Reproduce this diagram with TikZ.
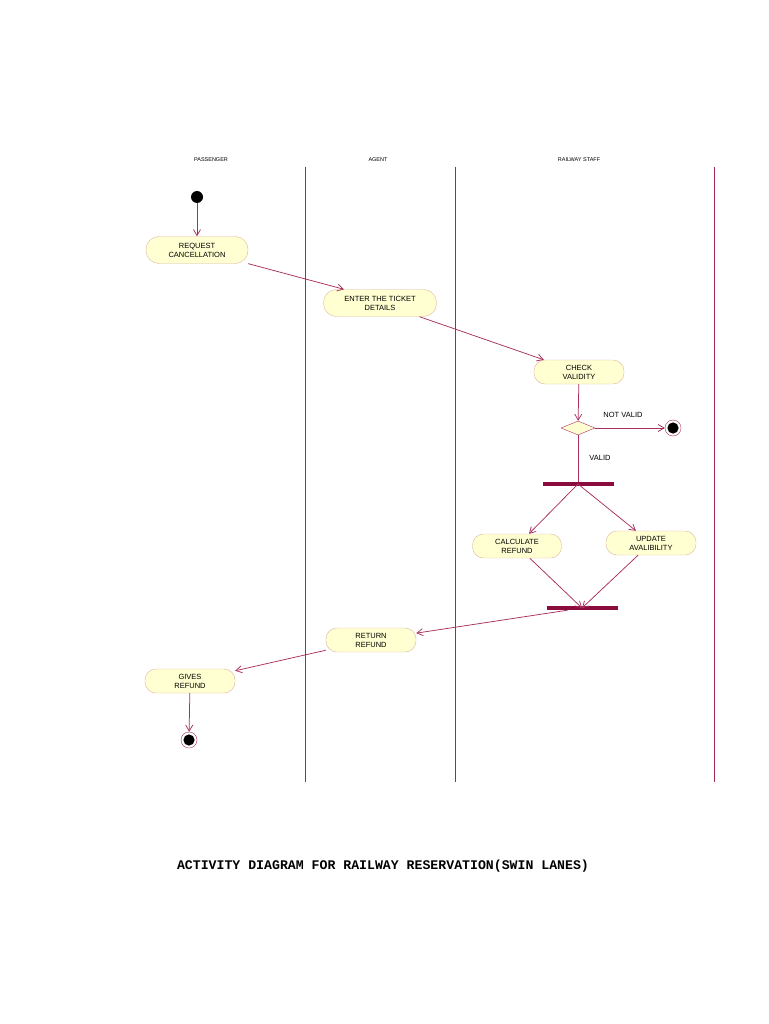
\documentclass[tikz,border=0pt]{standalone}
\usepackage{fontspec}
\setmainfont{Liberation Sans}
\newfontfamily\titlefont{Liberation Mono}
\usetikzlibrary{arrows.meta,shapes.geometric}
\definecolor{lanecol}{HTML}{A0285A}
\definecolor{arrcol}{HTML}{A8305E}
\definecolor{barcol}{HTML}{8A0C3C}
\definecolor{actfill}{HTML}{FFFFD2}
\definecolor{actdraw}{HTML}{DDB59E}
\begin{document}
\begin{tikzpicture}[x=1pt,y=-1pt,
  lane/.style={draw=lanecol,line width=1pt},
  lanelabel/.style={font=\fontsize{5.5}{6}\selectfont,inner sep=0pt},
  act/.style={draw=actdraw,fill=actfill,rounded corners=11pt,minimum height=24pt,
    align=center,inner sep=1pt,font=\fontsize{7.5}{9}\selectfont},
  flow/.style={draw=arrcol,line width=0.75pt,-{Straight Barb[length=6pt,width=7pt]}},
  startst/.style={circle,fill=black,inner sep=0pt,minimum size=12pt},
  endst/.style={circle,draw=arrcol,fill=white,inner sep=0pt,minimum size=16pt,
    path picture={\fill[black] (path picture bounding box.center) circle (5.6pt);}},
  bar/.style={fill=barcol,inner sep=0pt,minimum width=71pt,minimum height=4pt},
  decision/.style={diamond,draw=arrcol,fill=actfill,inner sep=0pt,minimum width=34pt,minimum height=14pt},
  guard/.style={font=\fontsize{7.5}{8}\selectfont,inner sep=0pt}]
\useasboundingbox (0,0) rectangle (768,1024);

% lanes
\node[lanelabel] (lp) at (211,160) {PASSENGER};
\node[lanelabel] (la) at (378,160) {AGENT};
\node[lanelabel] (lr) at (579,160) {RAILWAY STAFF};
\coordinate (l1t) at (305.5,167); \coordinate (l1b) at (305.5,782);
\coordinate (l2t) at (455.5,167); \coordinate (l2b) at (455.5,782);
\coordinate (l3t) at (714.5,167); \coordinate (l3b) at (714.5,782);
\draw[lane] (l1t) -- (l1b);
\draw[lane] (l2t) -- (l2b);
\draw[lane] (l3t) -- (l3b);

% nodes
\node[startst] (start) at (197,197) {};
\node[act,minimum width=102pt,minimum height=27pt,rounded corners=13pt] (req) at (197,250) {REQUEST\\CANCELLATION};
\node[act,minimum width=113pt,minimum height=27pt,rounded corners=13pt] (enter) at (380,303) {ENTER THE TICKET\\DETAILS};
\node[act,minimum width=90pt] (check) at (579,372) {CHECK\\VALIDITY};
\node[decision] (dec) at (578,428) {};
\node[endst] (end1) at (673,428) {};
\node[guard] (nv) at (623,415) {NOT VALID};
\node[guard] (va) at (600,458) {VALID};
\node[bar] (fork) at (578,484) {};
\node[act,minimum width=89pt] (calc) at (517,546) {CALCULATE\\REFUND};
\node[act,minimum width=90pt] (upd) at (651,543) {UPDATE\\AVALIBILITY};
\node[bar] (join) at (582,608) {};
\node[act,minimum width=90pt] (ret) at (371,640) {RETURN\\REFUND};
\node[act,minimum width=90pt] (give) at (190,681) {GIVES\\REFUND};
\node[endst] (end2) at (189,740) {};

% flows
\draw[flow] (start) -- (req);
\draw[flow] (req) -- ([xshift=-36pt]enter.north);
\draw[flow] (enter) -- (check);
\draw[flow] (check) -- (dec);
\draw[flow] (dec) -- (end1);
\draw[flow,-] (dec) -- (fork);
\draw[flow] (fork.center) -- (calc);
\draw[flow] (fork.center) -- (upd);
\draw[flow] (calc) -- (join.center);
\draw[flow] (upd) -- (join.center);
\draw[flow] (join) -- (ret);
\draw[flow] (ret) -- (give);
\draw[flow] (give) -- (end2);

% title
\node[font=\titlefont\bfseries\fontsize{13.2}{15}\selectfont,inner sep=0pt] (title) at (383,866) {ACTIVITY DIAGRAM FOR RAILWAY RESERVATION(SWIN LANES)};
\end{tikzpicture}
\end{document}
